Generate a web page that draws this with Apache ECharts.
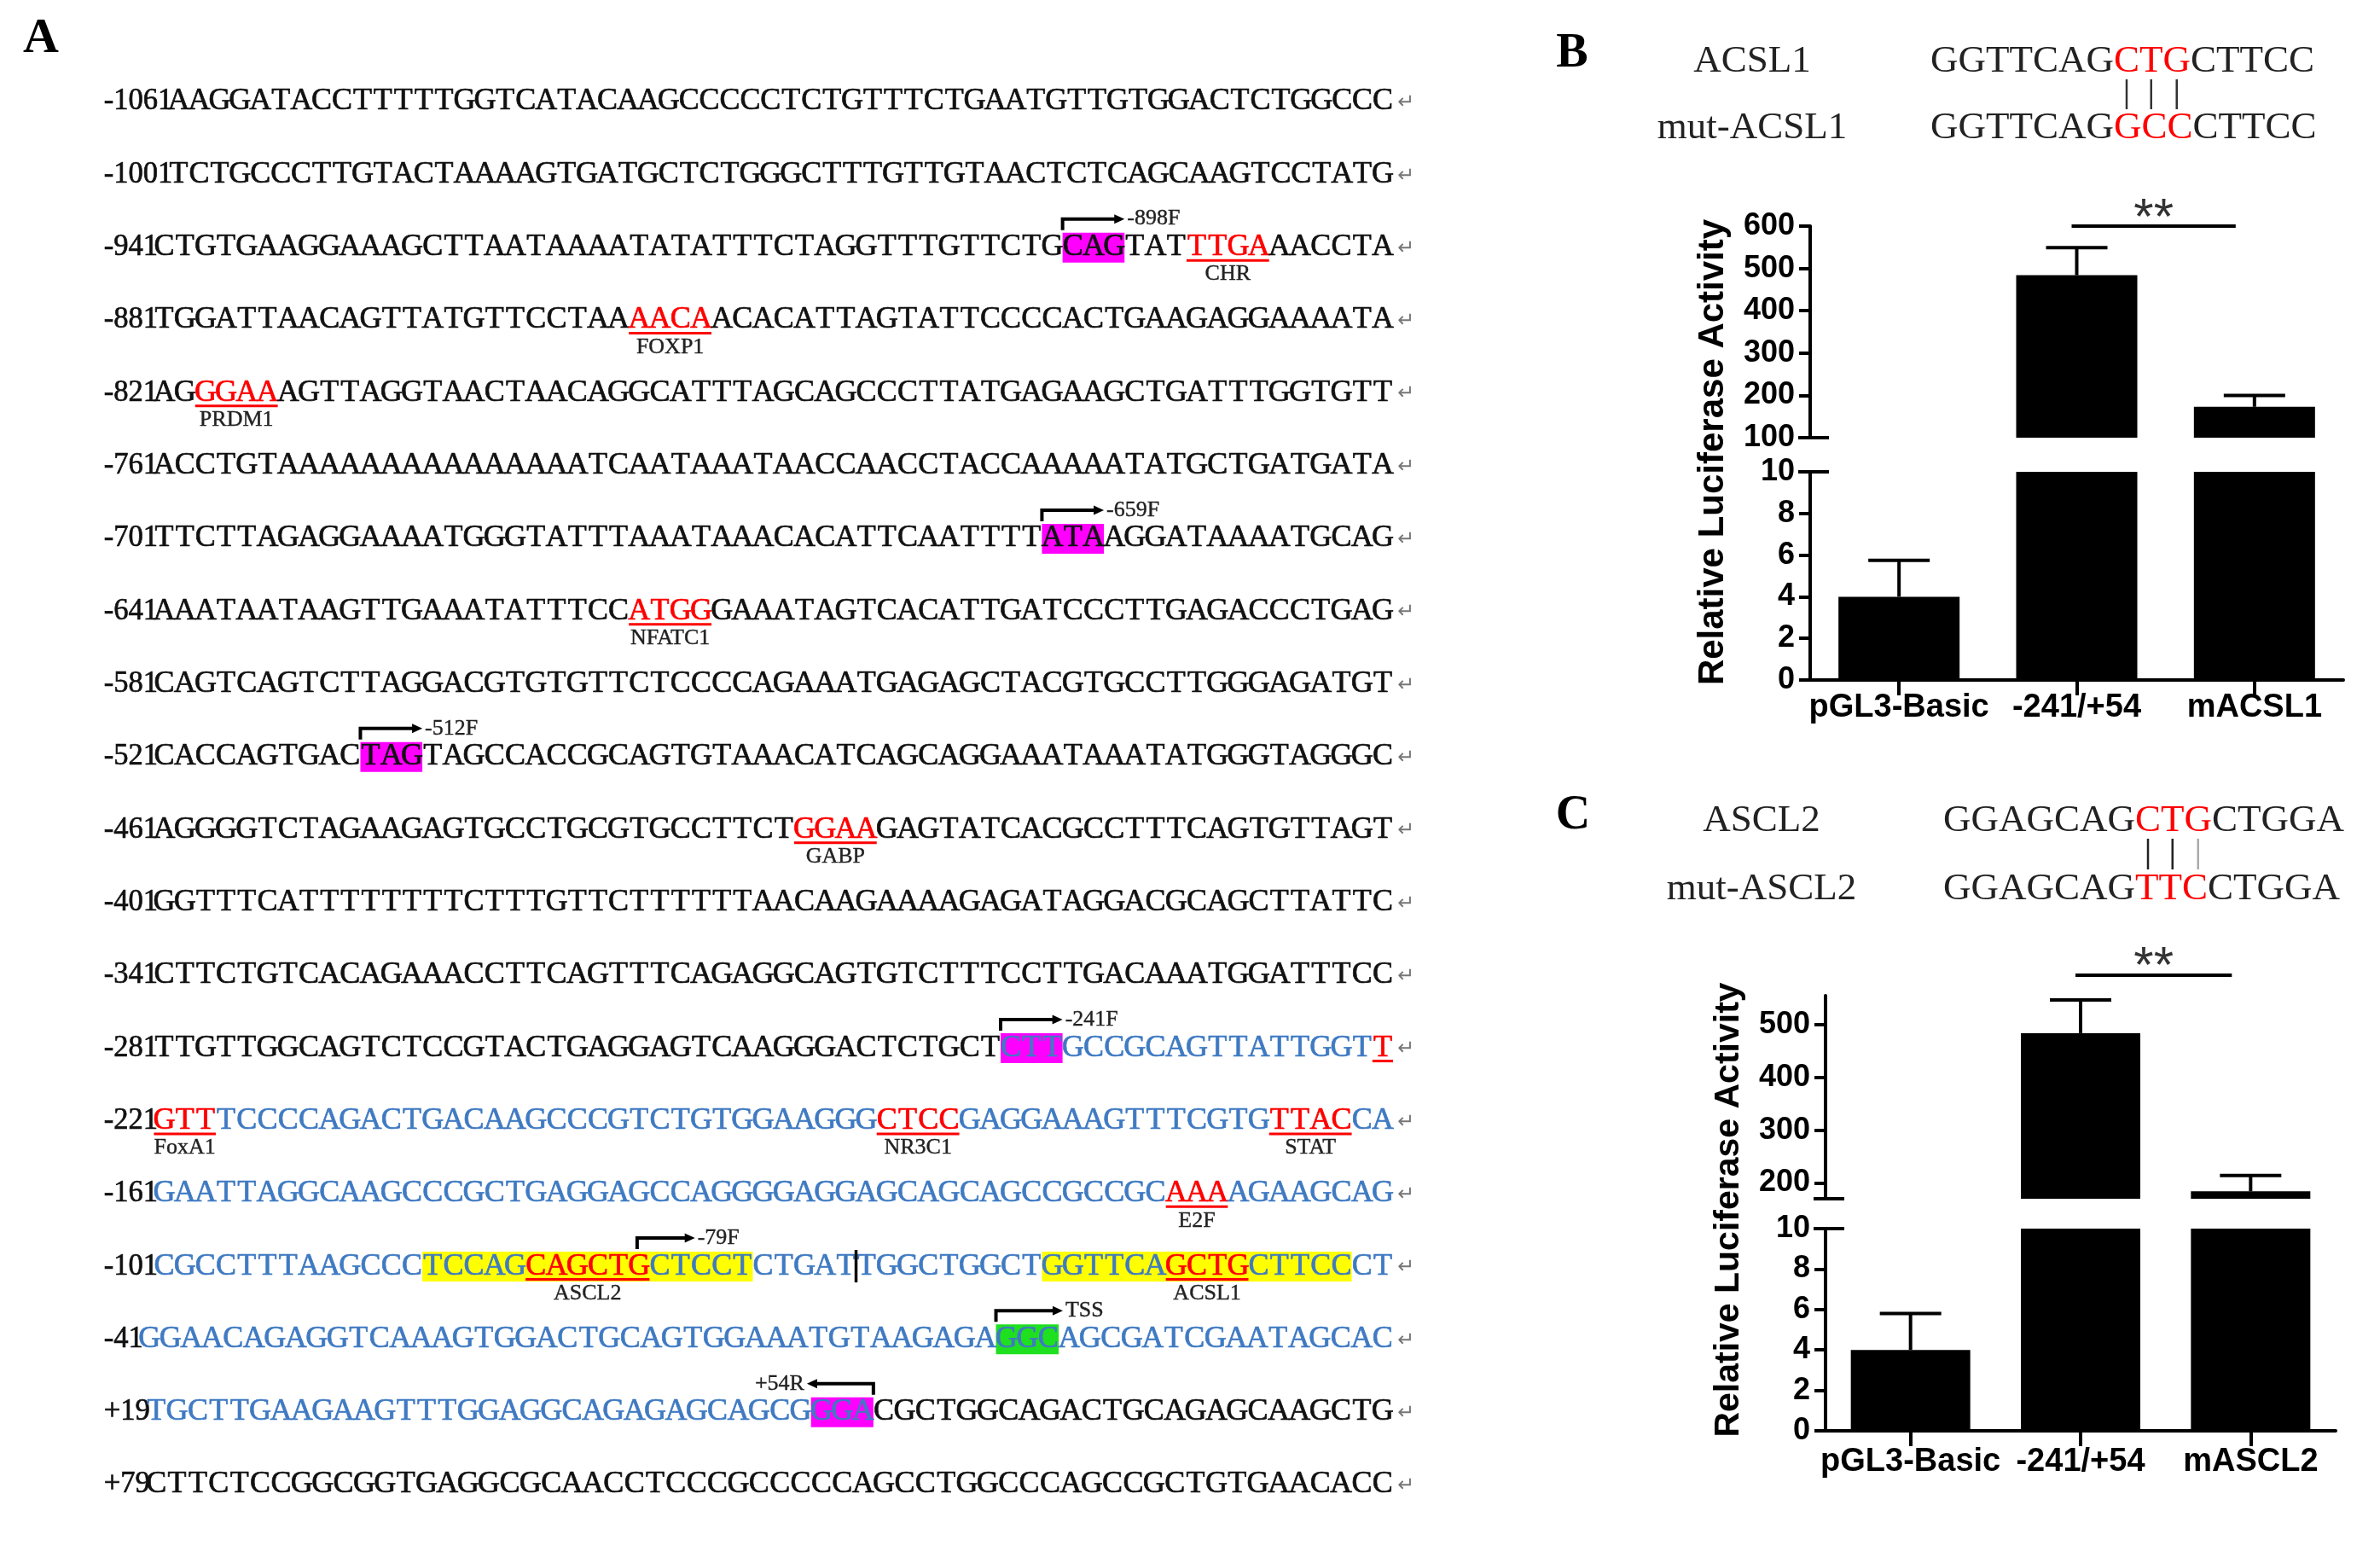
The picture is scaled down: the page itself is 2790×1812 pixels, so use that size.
<!DOCTYPE html>
<html>
<head>
<meta charset="utf-8">
<script src="https://cdn.jsdelivr.net/npm/echarts@6.0.0/dist/echarts.min.js"></script>
<style>
html,body{margin:0;padding:0;background:#ffffff;}
#chart{width:2790px;height:1812px;}
</style>
</head>
<body>
<div id="chart"></div>
<script>
// ================= Panel A data =================
const seqPrefixes = ['-1061','-1001','-941','-881','-821','-761','-701','-641','-581','-521','-461','-401','-341','-281','-221','-161','-101','-41','+19','+79'];
const seqLines = [
'AAGGATACCTTTTTGGTCATACAAGCCCCCTCTGTTTCTGAATGTTGTGGACTCTGGCCC',
'TCTGCCCTTGTACTAAAAGTGATGCTCTGGGCTTTGTTGTAACTCTCAGCAAGTCCTATG',
'CTGTGAAGGAAAGCTTAATAAAATATATTTCTAGGTTTGTTCTGCAGTATTTGAAACCTA',
'TGGATTAACAGTTATGTTCCTAAAACAACACATTAGTATTCCCCACTGAAGAGGAAAATA',
'AGGGAAAGTTAGGTAACTAACAGGCATTTAGCAGCCCTTATGAGAAGCTGATTTGGTGTT',
'ACCTGTAAAAAAAAAAAAAAATCAATAAATAACCAACCTACCAAAAATATGCTGATGATA',
'TTCTTAGAGGAAAATGGGTATTTAAATAAACACATTCAATTTTATAAGGATAAAATGCAG',
'AAATAATAAGTTGAAATATTTCCATGGGAAATAGTCACATTGATCCCTTGAGACCCTGAG',
'CAGTCAGTCTTAGGACGTGTGTTCTCCCCAGAAATGAGAGCTACGTGCCTTGGGAGATGT',
'CACCAGTGACTAGTAGCCACCGCAGTGTAAACATCAGCAGGAAATAAATATGGGTAGGGC',
'AGGGGTCTAGAAGAGTGCCTGCGTGCCTTCTGGAAGAGTATCACGCCTTTCAGTGTTAGT',
'GGTTTCATTTTTTTTCTTTGTTCTTTTTTAACAAGAAAAGAGATAGGACGCAGCTTATTC',
'CTTCTGTCACAGAAACCTTCAGTTTCAGAGGCAGTGTCTTTCCTTGACAAATGGATTTCC',
'TTGTTGGCAGTCTCCGTACTGAGGAGTCAAGGGACTCTGCTCTTGCCGCAGTTATTGGTT',
'GTTTCCCCAGACTGACAAGCCCGTCTGTGGAAGGGCTCCGAGGAAAGTTTCGTGTTACCA',
'GAATTAGGCAAGCCCGCTGAGGAGCCAGGGGAGGAGCAGCAGCCGCCGCAAAAGAAGCAG',
'CGCCTTTAAGCCCTCCAGCAGCTGCTCCTCTGATTGGCTGGCTGGTTCAGCTGCTTCCCT',
'GGAACAGAGGTCAAAGTGGACTGCAGTGGAAATGTAAGAGAGGCAGCGATCGAATAGCAC',
'TGCTTGAAGAAGTTTGGAGGCAGAGAGCAGCGGGACGCTGGCAGACTGCAGAGCAAGCTG',
'CTTCTCCGGCGGTGAGGCGCAACCTCCCGCCCCCAGCCTGGCCCAGCCGCTGTGAACACC'
];
// [line, firstIndex, lastIndex] blue (cloned -241/+54 fragment)
const blueRanges = [[13,41,58],[14,0,59],[15,0,59],[16,0,59],[17,0,59],[18,0,34]];
// [line, first, last, factor]
const siteMarks = [[2,50,53,'CHR'],[3,23,26,'FOXP1'],[4,2,5,'PRDM1'],[7,23,26,'NFATC1'],[10,31,34,'GABP'],
  [13,59,59,''],[14,0,2,'FoxA1'],[14,35,38,'NR3C1'],[14,54,57,'STAT'],[15,49,51,'E2F'],[16,18,23,'ASCL2'],[16,49,52,'ACSL1']];
// [line, first, last, kind]
const highlights = [[2,44,46,'primer'],[6,43,45,'primer'],[9,10,12,'primer'],[13,41,43,'primer'],
  [16,13,28,'site'],[16,43,57,'site'],[17,41,43,'tss'],[18,32,34,'primer']];
// [line, from, to, label]  (to < from : reverse primer)
const primers = [[2,44,47,'-898F'],[6,43,46,'-659F'],[9,10,13,'-512F'],[13,41,44,'-241F'],
  [16,23.4,26.2,'-79F'],[17,41,44.2,'TSS'],[18,35,31.8,'+54R']];
const cursorMarks = [[16,34]];

// ================= Panel B / C data =================
const categoriesB = ['pGL3-Basic','-241/+54','mACSL1'];
const meansB = [4.0, 484, 173];
const errsB = [1.75, 65, 27];
const categoriesC = ['pGL3-Basic','-241/+54','mASCL2'];
const meansC = [4.0, 484, 184];
const errsC = [1.8, 63, 30];
const upperRangeB = [100, 600];
const upperRangeC = [170, 555];
const lowerRange = [0, 10];
const upperTicksC = [200, 300, 400, 500];
const sigPairB = [1, 2, 600];
const sigPairC = [1, 2, 594];
const sigLabel = '**';
const mutNamesB = ['ACSL1', 'mut-ACSL1'];
const mutSeqsB = ['GGTTCAGCTGCTTCC', 'GGTTCAGGCCCTTCC'];
const mutNamesC = ['ASCL2', 'mut-ASCL2'];
const mutSeqsC = ['GGAGCAGCTGCTGGA', 'GGAGCAGTTCCTGGA'];
const mutPositions = [7, 8, 9];
const yTitle = 'Relative Luciferase Activity';

// ================= styling =================
const SERIF = '"Liberation Serif","Times New Roman",serif';
const SANS = '"Liberation Sans",Arial,sans-serif';
const BLACK = '#111111';
const BLUE = '#3f7ac2';
const RED = '#ff0000';
const HL = {primer:'#ff00ff', site:'#ffff00', tss:'#1fe01f'};
const SEQ_FONT = '36px ' + SERIF;
const SMALL_FONT = '26px ' + SERIF;

const mctx = document.createElement('canvas').getContext('2d');
function measure(t, font){ mctx.font = font; return mctx.measureText(t).width; }

function charColor(i, k){
  for (const s of siteMarks) if (s[0]===i && k>=s[1] && k<=s[2]) return RED;
  for (const b of blueRanges) if (b[0]===i && k>=b[1] && k<=b[2]) return BLUE;
  return BLACK;
}
function txt(x, y, text, font, fill, align, valign, strokeW){
  const st = {text:text, font:font, fill:fill,
    align:align||'left', verticalAlign:valign||'middle', textAlign:align||'left', textVerticalAlign:valign||'middle'};
  if (strokeW){ st.stroke = fill; st.lineWidth = strokeW; }
  return {type:'text', x:x, y:y, style:st};
}

function renderSeqLine(params, api){
  const i = api.value(1);
  const p0 = api.coord([0, i]);
  const p1 = api.coord([1, i]);
  const y = p0[1];
  const seq = seqLines[i];
  const xs = p0[0] + measure(seqPrefixes[i], SEQ_FONT) * 0.96;
  const slot = (p1[0] - xs) / seq.length;
  const sx = k => xs + k * slot;
  const ch = [];
  highlights.filter(h => h[0]===i).forEach(h => {
    ch.push({type:'rect', shape:{x:sx(h[1]), y:y-17, width:(h[2]-h[1]+1)*slot, height:35}, style:{fill:HL[h[3]]}});
  });
  const pre = txt(p0[0], y, seqPrefixes[i], SEQ_FONT, BLACK, 'left', 'middle', 0.7);
  pre.scaleX = 0.96; pre.originX = p0[0];
  ch.push(pre);
  for (let k=0; k<seq.length; k++){
    ch.push(txt(sx(k)+slot/2, y, seq[k], SEQ_FONT, charColor(i,k), 'center', 'middle', 0.7));
  }
  siteMarks.filter(s => s[0]===i).forEach(s => {
    ch.push({type:'rect', shape:{x:sx(s[1]), y:y+14, width:(s[2]-s[1]+1)*slot, height:3}, style:{fill:RED}});
    if (s[3]) ch.push(txt((sx(s[1])+sx(s[2]+1))/2, y+32, s[3], SMALL_FONT, '#222', 'center', 'middle', 0.4));
  });
  primers.filter(p => p[0]===i).forEach(p => {
    const a = sx(p[1]), b = sx(p[2]);
    const dir = b > a ? 1 : -1;
    const ya = y - 33;
    ch.push({type:'polyline', shape:{points:[[a, y-20],[a, ya],[b - dir*9, ya]]}, style:{stroke:'#000', lineWidth:4, fill:null}});
    ch.push({type:'polygon', shape:{points:[[b, ya],[b - dir*12, ya-5.5],[b - dir*12, ya+5.5]]}, style:{fill:'#000'}});
    ch.push(txt(b + dir*3, ya, p[3], SMALL_FONT, '#222', dir>0?'left':'right', 'middle', 0.4));
  });
  cursorMarks.filter(c => c[0]===i).forEach(c => {
    ch.push({type:'line', shape:{x1:sx(c[1]), y1:y-19, x2:sx(c[1]), y2:y+19}, style:{stroke:'#000', lineWidth:3.5}});
  });
  ch.push(txt(p1[0]+5, y+2, '\u21B5', '24px "DejaVu Sans",' + SERIF, '#777', 'left'));
  return {type:'group', children:ch};
}

function renderErr(params, api){
  const c = api.value(0), m = api.value(1), e = api.value(2);
  const base = api.coord([c, m]);
  const top = api.coord([c, m + e]);
  const half = 36;
  return {type:'group', children:[
    {type:'line', shape:{x1:base[0], y1:base[1], x2:top[0], y2:top[1]}, style:{stroke:'#000', lineWidth:4}},
    {type:'line', shape:{x1:top[0]-half, y1:top[1], x2:top[0]+half, y2:top[1]}, style:{stroke:'#000', lineWidth:4}}
  ]};
}
function renderBreak(params, api){
  const cs = params.coordSys;
  const y = api.coord([0, api.value(1)])[1];
  return {type:'line', shape:{x1:cs.x-14, y1:y, x2:cs.x+22, y2:y}, style:{stroke:'#000', lineWidth:4}};
}
function renderSig(params, api){
  const a = api.coord([api.value(0), api.value(2)]);
  const b = api.coord([api.value(1), api.value(2)]);
  const x1 = a[0]-6, x2 = b[0]-22;
  return {type:'group', children:[
    {type:'line', shape:{x1:x1, y1:a[1], x2:x2, y2:a[1]}, style:{stroke:'#000', lineWidth:4}},
    txt((x1+x2)/2, a[1]+22, sigLabel, '60px ' + SANS, '#333', 'center', 'bottom')
  ]};
}
function errData(means, errs, lo, hi){
  return means.map((m,k) => [k, m, errs[k]]).filter(d => d[1] >= lo && d[1] <= hi);
}

// ================= grids =================
const gB = {left:2122, width:625};
const gC = {left:2140, width:598};
const grids = [
  {left:117, top:119, width:1516, height:1621},
  {left:gB.left, width:gB.width, top:265, height:248},
  {left:gB.left, width:gB.width, top:553, height:244},
  {left:gC.left, width:gC.width, top:1167, height:238},
  {left:gC.left, width:gC.width, top:1440, height:237}
];
const axisLineStyle = {show:true, lineStyle:{color:'#000', width:4}};
const yLabel = {fontSize:36, fontWeight:'bold', fontFamily:SANS, color:'#000', margin:18};
function catAxis(gi, cats, visible, margin){
  return {type:'category', gridIndex:gi, data:cats, boundaryGap:true, show:visible,
    axisLine:axisLineStyle,
    axisTick:{show:true, alignWithLabel:true, length:18, lineStyle:{color:'#000', width:4}},
    axisLabel:{interval:0, hideOverlap:false, fontSize:38, fontWeight:'bold', fontFamily:SANS, color:'#000', margin:margin}};
}
function valAxis(gi, range, interval, custom){
  const ax = {type:'value', gridIndex:gi, min:range[0], max:range[1], axisLine:axisLineStyle,
    axisTick:{show:true, length:13, lineStyle:{color:'#000', width:4}},
    axisLabel:Object.assign({}, yLabel), splitLine:{show:false}};
  if (custom){ ax.axisLabel.customValues = custom; ax.axisTick.customValues = custom; }
  else ax.interval = interval;
  return ax;
}

const xAxes = [
  {type:'value', gridIndex:0, min:0, max:1, show:false},
  catAxis(1, categoriesB, false, 14),
  catAxis(2, categoriesB, true, 14),
  catAxis(3, categoriesC, false, 18),
  catAxis(4, categoriesC, true, 18)
];
const yAxes = [
  {type:'value', gridIndex:0, min:0, max:19, inverse:true, show:false},
  valAxis(1, upperRangeB, 100),
  valAxis(2, lowerRange, 2),
  valAxis(3, upperRangeC, null, upperTicksC),
  valAxis(4, lowerRange, 2)
];

function barSeries(gi, means, w){
  return {type:'bar', xAxisIndex:gi, yAxisIndex:gi, data:means, barWidth:w, clip:true,
    itemStyle:{color:'#000'}, silent:true};
}
function custom(gi, data, fn, z){
  return {type:'custom', xAxisIndex:gi, yAxisIndex:gi, data:data, renderItem:fn, silent:true, z:z||3};
}

const series = [
  custom(0, seqLines.map((s,i) => [0, i]), renderSeqLine),
  barSeries(1, meansB, 142), barSeries(2, meansB, 142),
  barSeries(3, meansC, 140), barSeries(4, meansC, 140),
  custom(1, errData(meansB, errsB, upperRangeB[0], upperRangeB[1]), renderErr),
  custom(2, errData(meansB, errsB, lowerRange[0], lowerRange[1]), renderErr),
  custom(3, errData(meansC, errsC, upperRangeC[0], upperRangeC[1]), renderErr),
  custom(4, errData(meansC, errsC, lowerRange[0], lowerRange[1]), renderErr),
  custom(1, [[0, upperRangeB[0]]], renderBreak), custom(2, [[0, lowerRange[1]]], renderBreak),
  custom(3, [[0, upperRangeC[0]]], renderBreak), custom(4, [[0, lowerRange[1]]], renderBreak),
  custom(1, [sigPairB], renderSig), custom(3, [sigPairC], renderSig)
];

// ================= graphic annotations =================
const graphics = [];
function gText(x, y, text, font, fill, align, rot){
  const t = txt(x, y, text, font, fill, align, 'middle');
  if (rot) t.rotation = rot;
  graphics.push(t);
}
gText(48, 46, 'A', 'bold 58px ' + SERIF, '#000', 'center');
gText(1843, 64, 'B', 'bold 56px ' + SERIF, '#000', 'center');
gText(1844, 957, 'C', 'bold 56px ' + SERIF, '#000', 'center');
gText(2008, 530, yTitle, 'bold 42px ' + SANS, '#000', 'center', Math.PI/2);
gText(2027, 1418, yTitle, 'bold 41px ' + SANS, '#000', 'center', Math.PI/2);

const MUT_FONT = '45px ' + SERIF;
function mutBlock(names, seqs, cx, sx, ys, barY, barColors){
  names.forEach((n, r) => gText(cx, ys[r], n, MUT_FONT, '#222', 'center'));
  seqs.forEach((s, r) => {
    const a = s.slice(0, mutPositions[0]);
    const m = s.slice(mutPositions[0], mutPositions[mutPositions.length-1]+1);
    const b = s.slice(mutPositions[mutPositions.length-1]+1);
    const wa = measure(a, MUT_FONT), wm = measure(m, MUT_FONT);
    gText(sx, ys[r], a, MUT_FONT, '#222', 'left');
    gText(sx + wa, ys[r], m, MUT_FONT, RED, 'left');
    gText(sx + wa + wm, ys[r], b, MUT_FONT, '#222', 'left');
  });
  mutPositions.forEach((p, k) => {
    const x = sx + measure(seqs[0].slice(0, p), MUT_FONT) + measure(seqs[0][p], MUT_FONT)/2;
    graphics.push({type:'line', shape:{x1:x, y1:barY[0], x2:x, y2:barY[1]}, style:{stroke:barColors[k], lineWidth:2.5}});
  });
}
mutBlock(mutNamesB, mutSeqsB, 2054, 2263, [72, 150], [93, 128], ['#333','#333','#333']);
mutBlock(mutNamesC, mutSeqsC, 2065, 2278, [962, 1042], [983, 1019], ['#222','#222','#aaa']);

const chart = echarts.init(document.getElementById('chart'), null, {renderer:'canvas', width:2790, height:1812});
chart.setOption({
  backgroundColor:'#ffffff',
  animation:false,
  grid:grids,
  xAxis:xAxes,
  yAxis:yAxes,
  series:series,
  graphic:graphics
});
</script>
</body>
</html>
